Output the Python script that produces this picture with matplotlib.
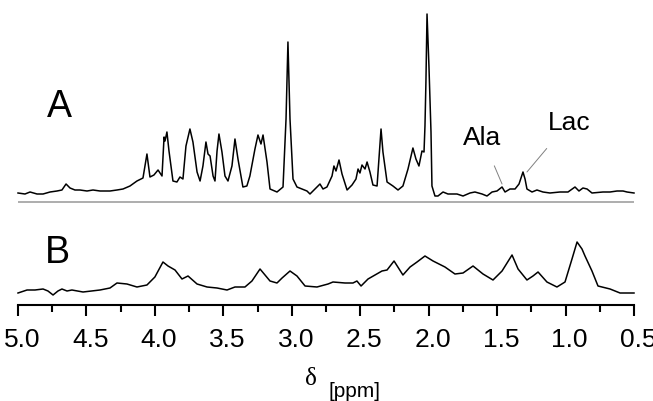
import matplotlib
matplotlib.use("Agg")
import matplotlib.pyplot as plt
from matplotlib.ticker import MultipleLocator
from matplotlib.transforms import ScaledTranslation

# ---- data ----
ppm_a = [5.00, 4.949, 4.912, 4.861, 4.817, 4.766, 4.715, 4.679, 4.649, 4.620, 4.584, 4.547,
         4.496, 4.452, 4.401, 4.328, 4.277, 4.233, 4.182, 4.131, 4.087, 4.058, 4.036, 4.007,
         3.977, 3.948, 3.933, 3.926, 3.912, 3.897, 3.868, 3.839, 3.817, 3.795, 3.773, 3.744,
         3.722, 3.692, 3.670, 3.649, 3.627, 3.612, 3.597, 3.575, 3.561, 3.546, 3.532, 3.510,
         3.488, 3.466, 3.437, 3.415, 3.393, 3.357, 3.328, 3.306, 3.269, 3.247, 3.225, 3.210,
         3.181, 3.159, 3.108, 3.064, 3.042, 3.028, 3.013, 2.991, 2.962, 2.925, 2.889, 2.867,
         2.830, 2.794, 2.772, 2.743, 2.706, 2.692, 2.677, 2.655, 2.633, 2.596, 2.560, 2.531,
         2.516, 2.502, 2.487, 2.465, 2.450, 2.429, 2.407, 2.377, 2.370, 2.348, 2.334, 2.304,
         2.261, 2.224, 2.188, 2.151, 2.115, 2.093, 2.071, 2.049, 2.034, 2.027, 2.020, 2.012,
         1.998, 1.983, 1.976, 1.954, 1.932, 1.895, 1.859, 1.829, 1.793, 1.749, 1.698, 1.662,
         1.610, 1.574, 1.537, 1.501, 1.464, 1.442, 1.406, 1.369, 1.340, 1.311, 1.296, 1.282,
         1.245, 1.209, 1.165, 1.114, 1.041, 0.982, 0.931, 0.902, 0.873, 0.843, 0.807, 0.727,
         0.675, 0.624, 0.580, 0.551, 0.500]
int_a = [9, 8, 10, 8, 8, 10, 11, 12, 18, 14, 12, 12,
         11, 12, 11, 11, 12, 13, 16, 21, 24, 48, 25, 27,
         32, 26, 65, 61, 70, 51, 21, 20, 25, 23, 56, 73,
         60, 30, 21, 36, 60, 48, 46, 26, 21, 51, 68, 50,
         26, 21, 36, 63, 43, 15, 16, 26, 53, 67, 58, 67,
         40, 13, 10, 15, 83, 160, 83, 23, 15, 13, 11, 8,
         13, 18, 13, 15, 26, 36, 31, 42, 28, 12, 17, 23,
         33, 29, 37, 33, 40, 30, 17, 16, 30, 73, 50, 20,
         16, 12, 16, 33, 54, 43, 36, 51, 50, 76, 120, 188,
         136, 70, 16, 6, 6, 10, 8, 8, 8, 6, 9, 10,
         8, 6, 10, 11, 15, 10, 13, 13, 18, 30, 23, 13,
         10, 12, 10, 9, 10, 10, 15, 11, 14, 13, 9, 10,
         10, 11, 11, 10, 9]

ppm_b = [5.00, 4.934, 4.876, 4.817, 4.781, 4.744, 4.708, 4.679, 4.642, 4.606, 4.525, 4.401,
         4.328, 4.277, 4.204, 4.131, 4.058, 4.000, 3.941, 3.904, 3.853, 3.802, 3.758, 3.692,
         3.619, 3.546, 3.473, 3.415, 3.342, 3.291, 3.232, 3.159, 3.108, 3.071, 3.013, 2.962,
         2.903, 2.816, 2.735, 2.699, 2.611, 2.553, 2.524, 2.494, 2.443, 2.341, 2.304, 2.253,
         2.188, 2.136, 2.085, 2.027, 1.968, 1.881, 1.808, 1.749, 1.676, 1.603, 1.530, 1.464,
         1.391, 1.347, 1.282, 1.238, 1.201, 1.136, 1.063, 1.004, 0.953, 0.916, 0.880, 0.858,
         0.807, 0.763, 0.675, 0.602, 0.500]
int_b = [2, 5, 5, 6, 4, 0, 4, 6, 4, 5, 3, 5,
         7, 12, 11, 8, 10, 18, 33, 29, 25, 16, 19, 11,
         8, 7, 5, 8, 8, 14, 26, 14, 12, 17, 24, 19,
         9, 8, 11, 13, 12, 12, 14, 9, 16, 24, 25, 34,
         20, 28, 33, 39, 34, 28, 21, 22, 29, 21, 15, 24,
         40, 26, 15, 19, 23, 13, 8, 13, 36, 53, 46, 39,
         24, 9, 6, 2, 2]

xticks = [5.0, 4.5, 4.0, 3.5, 3.0, 2.5, 2.0, 1.5, 1.0, 0.5]
xtick_labels = ["5.0", "4.5", "4.0", "3.5", "3.0", "2.5", "2.0", "1.5", "1.0", "0.5"]

W, H = 653, 402
fig = plt.figure(figsize=(W / 100, H / 100), dpi=100)
ax = fig.add_axes([18 / W, (H - 306) / H, 616 / W, 306 / H])

off_a = 103
off_b = 10
ax.axhline(off_a, color="#a0a0a0", lw=1.2)
ax.plot(ppm_a, [v + off_a for v in int_a], color="black", lw=1.1, clip_on=False)
ax.plot(ppm_b, [v + off_b for v in int_b], color="black", lw=1.1, clip_on=False)

ax.set_xlim(5.0, 0.5)
ax.set_ylim(0, 306)

for s in ["top", "left", "right"]:
    ax.spines[s].set_visible(False)
ax.spines["bottom"].set_linewidth(1.5)
ax.set_yticks([])
ax.set_xticks(xticks)
ax.set_xticklabels(xtick_labels, fontfamily="Liberation Sans", fontsize=19)
ax.xaxis.set_minor_locator(MultipleLocator(0.25))
ax.tick_params(axis="x", which="major", direction="out", length=8, width=1.5, pad=8)
ax.tick_params(axis="x", which="minor", direction="out", length=5, width=1.5)
ax.patch.set_visible(False)
shift = ScaledTranslation(4 / 100, 0, fig.dpi_scale_trans)
for lab in ax.get_xticklabels():
    lab.set_transform(lab.get_transform() + shift)

# trace labels
ax.text(4.70, 306 - 107, "A", fontsize=27, fontfamily="Liberation Sans", ha="center", va="center")
ax.text(4.71, 306 - 253, "B", fontsize=27, fontfamily="Liberation Sans", ha="center", va="center")

# annotations
ax.annotate("Ala", xy=(1.464, 121), xytext=(1.610, 168), fontsize=19,
            fontfamily="Liberation Sans", ha="center", va="center",
            arrowprops=dict(arrowstyle="-", color="#808080", lw=0.7, shrinkA=11, shrinkB=0))
ax.annotate("Lac", xy=(1.282, 133), xytext=(0.975, 183), fontsize=19,
            fontfamily="Liberation Sans", ha="center", va="center",
            arrowprops=dict(arrowstyle="-", color="#808080", lw=0.7, shrinkA=11, shrinkB=0))

# axis label
fig.text(311 / W, 1 - 379 / H, "\u03b4", fontsize=18, fontfamily="Liberation Serif",
         ha="center", va="center")
fig.text(329 / W, 1 - 392 / H, "[ppm]", fontsize=15, fontfamily="Liberation Sans",
         ha="left", va="center")

fig.savefig("out.png", dpi=100)
